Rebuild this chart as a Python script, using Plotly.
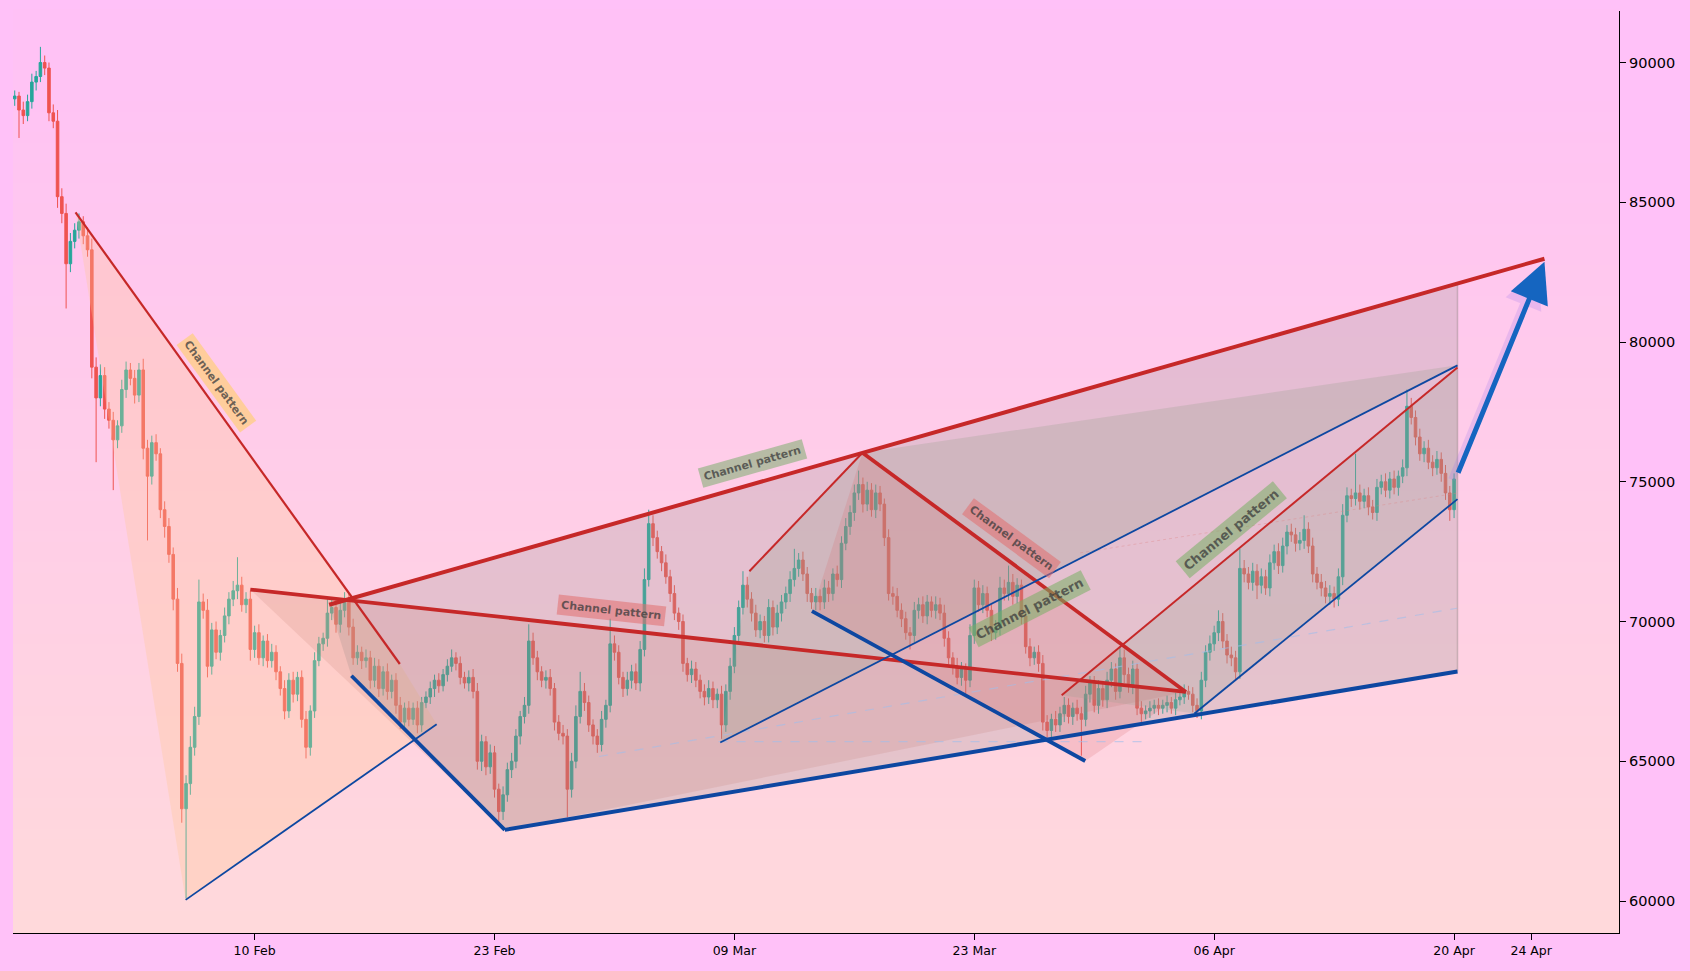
import plotly.graph_objects as go

# ---------------- candle data (6h candles, x = candle index) ----------------
first_open = 88700
closes = [
    88800, 88300, 88100, 88600,  89300, 89500, 90000, 89800,
    88200, 87900, 85200, 84600,  82800, 83600, 84000, 84300,
    83800, 83300, 79100, 78000,  78800, 77600, 77200, 76500,
    77000, 78300, 79000, 78700,  78100, 79000, 76200, 75200,
    76400, 76000, 74000, 73400,  72400, 70800, 68500, 63300,
    64200, 65500, 66600, 70700,  70400, 68400, 69700, 68900,
    69500, 70200, 70800, 71100,  71300, 70600, 70800, 69000,
    69600, 68700, 69300, 68600,  68900, 68200, 67600, 66800,
    67900, 67400, 68000, 66500,  65500, 66800, 68600, 69200,
    69400, 70300, 70500, 69900,  70400, 70800, 69800, 68700,
    68900, 68600, 68700, 67900,  68400, 67600, 68200, 67500,
    67900, 67000, 66400, 66900,  66500, 66900, 66300, 67100,
    67300, 67600, 67900, 67700,  68100, 68400, 68700, 68500,
    68000, 67800, 68000, 67500,  65000, 65700, 64800, 65300,
    64000, 63200, 63800, 64700,  65000, 65900, 66600, 67000,
    69300, 68700, 68200, 67900,  68000, 67600, 66400, 66000,
    65900, 64000, 65000, 66600,  67500, 67100, 66300, 65900,
    65600, 66500, 67000, 69200,  68900, 68000, 67600, 67900,
    68200, 67800, 69000, 71500,  73500, 73000, 72500, 72100,
    71600, 71000, 70300, 70000,  68500, 68100, 68300, 67900,
    67500, 67300, 67600, 67200,  67400, 66300, 67500, 68400,
    69500, 70500, 71300, 70800,  70300, 69700, 70000, 69500,
    70500, 69800, 70300, 70700,  71000, 71500, 71900, 72200,
    71700, 71000, 70700, 70900,  70700, 71200, 71000, 71700,
    71500, 72800, 73400, 73900,  74600, 74900, 74200, 74700,
    74000, 74600, 74200, 73000,  71000, 70900, 70400, 70100,
    69600, 69500, 70400, 70600,  70200, 70700, 70400, 70600,
    70300, 69400, 68700, 68400,  68000, 68300, 67900, 69500,
    71200, 70600, 71000, 70400,  69600, 69800, 71200, 71000,
    71400, 70900, 71300, 70200,  69100, 68700, 68900, 68500,
    66400, 66100, 66500, 66300,  66700, 67000, 66600, 66900,
    66700, 66500, 67400, 67800,  67000, 67600, 67200, 67900,
    68300, 67500, 68700, 68100,  67700, 68300, 66900, 66700,
    66800, 66900, 67000, 66900,  67000, 67100, 66900, 67200,
    67300, 67500, 67400, 67000,  66800, 67900, 68900, 69200,
    69600, 70000, 69300, 68800,  68700, 68200, 71900, 71700,
    71400, 71800, 71300, 71600,  71200, 72100, 72500, 72000,
    72700, 73200, 73100, 72800,  72900, 73300, 72700, 71700,
    71400, 71200, 70900, 71000,  70800, 71600, 73800, 74500,
    74400, 74600, 74300, 74500,  74100, 73900, 74800, 75000,
    74700, 75100, 74800, 75200,  75500, 77700, 77300, 76600,
    76000, 76200, 75700, 75500,  75800, 75300, 74600, 74000,
    75100,
]
upper_wicks = [
    200, 150, 300, 250,  300, 200, 560, 250,  200, 300, 400, 300,  350, 300, 250, 300,
    200, 300, 400, 350,  400, 300, 250, 300,  200, 350, 300, 250,  300, 250, 400, 300,
    250, 300, 200, 300,  300, 250, 400, 350,  300, 400, 350, 800,  300, 400, 250, 300,
    200, 300, 250, 350,  1000, 300, 250, 300, 250, 300, 200, 250,  300, 250, 200, 300,
    250, 300, 200, 250,  300, 200, 300, 250,  200, 500, 300, 250,  300, 250, 200, 300,
    250, 200, 300, 250,  300, 250, 200, 300,  200, 250, 300, 200,  250, 200, 250, 200,
    200, 250, 200, 250,  200, 250, 300, 200,  250, 200, 250, 300,  300, 250, 200, 300,
    250, 200, 300, 250,  300, 250, 200, 300,  600, 300, 250, 200,  250, 300, 200, 250,
    300, 250, 300, 400,  700, 300, 250, 200,  250, 300, 200, 900,  300, 250, 200, 300,
    250, 300, 300, 400,  500, 300, 250, 200,  300, 250, 300, 200,  250, 200, 300, 250,
    200, 250, 300, 250,  200, 300, 250, 300,  300, 250, 500, 300,  250, 300, 250, 200,
    300, 250, 300, 250,  250, 300, 700, 250,  300, 250, 200, 300,  250, 300, 250, 200,
    300, 250, 300, 250,  300, 500, 250, 300,  250, 300, 250, 200,  300, 250, 300, 250,
    250, 200, 300, 250,  300, 250, 200, 300,  250, 300, 250, 200,  300, 250, 200, 400,
    300, 250, 300, 250,  200, 250, 400, 300,  600, 300, 250, 200,  250, 300, 200, 250,
    300, 250, 200, 300,  250, 300, 250, 200,  300, 250, 300, 250,  250, 300, 200, 300,
    250, 200, 400, 300,  250, 300, 200, 250,  200, 250, 200, 250,  200, 250, 200, 250,
    200, 250, 200, 250,  250, 300, 250, 300,  250, 400, 300, 250,  300, 250, 700, 300,
    250, 300, 250, 300,  250, 300, 250, 300,  300, 250, 300, 250,  300, 500, 250, 300,
    250, 300, 250, 300,  250, 300, 400, 300,  250, 1400, 300, 250, 300, 250, 300, 250,
    300, 250, 300, 200,  300, 600, 300, 250,  300, 250, 300, 250,  300, 250, 300, 250,
    200,
]
lower_wicks = [
    250, 1000, 300, 200, 250, 300, 200, 250,  300, 250, 400, 350,  1600, 300, 250, 300,
    300, 250, 400, 2300, 300, 350, 300, 1800, 300, 250, 300, 250,  300, 250, 400, 2300,
    300, 250, 300, 400,  300, 400, 300, 500,  3200, 400, 300, 300, 300, 400, 300, 250,
    300, 250, 300, 250,  300, 250, 300, 400,  300, 250, 300, 250,  250, 300, 250, 300,
    250, 300, 250, 300,  400, 300, 250, 200,  250, 300, 250, 300,  300, 250, 300, 250,
    250, 300, 250, 300,  250, 300, 250, 300,  250, 300, 250, 200,  250, 200, 300, 250,
    200, 250, 300, 250,  200, 250, 200, 250,  250, 200, 300, 250,  300, 350, 300, 250,
    300, 500, 300, 250,  300, 250, 300, 250,  300, 250, 300, 250,  300, 250, 300, 250,
    300, 1000, 300, 250, 250, 300, 250, 300,  300, 250, 300, 250,  300, 250, 300, 250,
    300, 250, 300, 250,  250, 300, 250, 300,  250, 300, 250, 300,  300, 250, 300, 250,
    250, 300, 250, 300,  300, 500, 250, 300,  250, 300, 250, 300,  300, 250, 300, 250,
    250, 300, 250, 300,  250, 300, 250, 300,  250, 300, 250, 300,  300, 250, 300, 250,
    250, 300, 250, 300,  300, 250, 300, 250,  250, 300, 250, 300,  250, 300, 250, 300,
    250, 500, 250, 300,  250, 300, 250, 300,  250, 300, 250, 300,  250, 300, 500, 250,
    300, 250, 300, 250,  300, 250, 300, 250,  250, 300, 250, 300,  250, 300, 250, 300,
    300, 250, 300, 250,  250, 300, 250, 300,  250, 1300, 250, 300, 250, 300, 250, 300,
    250, 300, 250, 300,  250, 300, 250, 300,  200, 250, 200, 250,  200, 250, 200, 250,
    200, 250, 200, 250,  250, 300, 250, 300,  250, 300, 250, 300,  300, 300, 250, 300,
    250, 300, 500, 300,  250, 300, 250, 300,  250, 300, 250, 300,  250, 300, 250, 300,
    250, 300, 250, 300,  300, 250, 300, 250,  300, 250, 300, 250,  300, 250, 300, 250,
    250, 300, 250, 300,  250, 300, 250, 300,  250, 300, 250, 300,  250, 300, 250, 400,
    300,
]

# ---------------- axis ticks ----------------
x_tick_positions = [56, 112, 168, 224, 280, 336, 354]
x_tick_labels = ["10 Feb", "23 Feb", "09 Mar", "23 Mar", "06 Apr", "20 Apr", "24 Apr"]
y_tick_values = [60000, 65000, 70000, 75000, 80000, 85000, 90000]

# ---------------- pattern drawings (candle index, price) ----------------
chan_a_top_x, chan_a_top_y = [14.2, 89.9], [84640, 68480]
chan_a_bot_x, chan_a_bot_y = [39.9, 98.5], [60040, 66320]
chan_a_fill_x = [14.2, 89.9, 98.5, 39.9]
chan_a_fill_y = [84640, 68480, 66320, 60040]

wedge_top_x, wedge_top_y = [73.4, 357.1], [70600, 82980]
wedge_bot_x, wedge_bot_y = [114.4, 336.8], [62545, 68214]
wedge_fill_x = [73.4, 336.8, 336.8, 114.4, 78.6]
wedge_fill_y = [70600, 82134, 68214, 62545, 68060]
wedge_edge_x, wedge_edge_y = [336.8, 336.8], [82134, 68214]

desc_top_x, desc_top_y = [55.0, 273.4], [71144, 67480]
desc_bot_x, desc_bot_y = [78.6, 114.4], [68060, 62545]
desc_fill_x = [55.0, 273.4, 114.4]
desc_fill_y = [71144, 67480, 62545]

peak_left_x, peak_left_y = [171.5, 197.9], [71800, 76040]
peak_right_x, peak_right_y = [197.9, 273.4], [76040, 67480]
peak_sup_x, peak_sup_y = [186.1, 249.9], [70370, 65010]
peak_fill_x = [186.1, 197.9, 273.4, 249.9]
peak_fill_y = [70370, 76040, 67480, 65010]

rise_sup_x, rise_sup_y = [164.7, 336.8], [65670, 79165]
rise_fill_x = [164.7, 171.5, 197.9, 336.8]
rise_fill_y = [65670, 71800, 76040, 79165]

chan_b_top_x, chan_b_top_y = [244.4, 336.8], [67365, 79090]
chan_b_bot_x, chan_b_bot_y = [275.4, 336.8], [66710, 74380]
chan_b_fill_x = [244.4, 336.8, 336.8, 275.4]
chan_b_fill_y = [67365, 79090, 74380, 66710]

dash_mid_x, dash_mid_y = [136.4, 336.7], [65170, 70474]
dash_flat_x, dash_flat_y = [164.3, 264.3], [65700, 65700]
dash_red_x, dash_red_y = [248.7, 336.8], [72455, 74595]

arrow_start = (336.8, 75270)
arrow_end = (357.1, 82870)

label_text = "Channel pattern"
label_x = [47.0, 172.2, 139.4, 232.8, 237.0, 284.1]
label_y = [78548, 75656, 70410, 72976, 70473, 73277]
label_angle = [54, -15.8, 6.3, 36.3, -27.1, -39.5]
label_size = [11, 11, 11, 11, 13, 13]
label_bg = ["rgba(255,205,130,0.75)", "rgba(135,175,120,0.6)", "rgba(225,110,110,0.55)",
            "rgba(225,110,110,0.55)", "rgba(120,175,100,0.55)", "rgba(120,175,100,0.55)"]

# ---------------- build figure ----------------
opens = [first_open] + closes[:-1]
highs = [max(o, c) + u for o, c, u in zip(opens, closes, upper_wicks)]
lows = [min(o, c) - w for o, c, w in zip(opens, closes, lower_wicks)]
idx = list(range(len(closes)))

RED = "#C62828"
BLUE = "#0D47A1"

fig = go.Figure()

fig.add_trace(go.Candlestick(
    x=idx, open=opens, high=highs, low=lows, close=closes,
    increasing=dict(line=dict(color="#26A69A", width=1), fillcolor="#26A69A"),
    decreasing=dict(line=dict(color="#EF5350", width=1), fillcolor="#EF5350"),
    whiskerwidth=0, hoverinfo="skip", showlegend=False,
))


def poly(xs, ys, color):
    fig.add_trace(go.Scatter(x=xs + xs[:1], y=ys + ys[:1], mode="lines", fill="toself",
                             fillcolor=color, line=dict(width=0), hoverinfo="skip",
                             showlegend=False))


def seg(xs, ys, color, width, dash=None):
    fig.add_trace(go.Scatter(x=xs, y=ys, mode="lines",
                             line=dict(color=color, width=width, dash=dash),
                             hoverinfo="skip", showlegend=False))


poly(chan_a_fill_x, chan_a_fill_y, "rgba(255,200,150,0.32)")
poly(wedge_fill_x, wedge_fill_y, "rgba(160,150,148,0.27)")
poly(desc_fill_x, desc_fill_y, "rgba(185,110,100,0.16)")
poly(rise_fill_x, rise_fill_y, "rgba(150,160,140,0.26)")
poly(peak_fill_x, peak_fill_y, "rgba(215,105,105,0.20)")
poly(chan_b_fill_x, chan_b_fill_y, "rgba(150,160,140,0.22)")

seg(wedge_edge_x, wedge_edge_y, "rgba(150,140,140,0.45)", 1.5)
seg(dash_mid_x, dash_mid_y, "rgba(160,190,235,0.6)", 1.2, "dash")
seg(dash_flat_x, dash_flat_y, "rgba(160,190,235,0.6)", 1.2, "dash")
seg(dash_red_x, dash_red_y, "rgba(220,130,130,0.35)", 1, "dot")

seg(chan_a_top_x, chan_a_top_y, RED, 2.2)
seg(chan_a_bot_x, chan_a_bot_y, BLUE, 1.8)
seg(desc_top_x, desc_top_y, RED, 3.8)
seg(desc_bot_x, desc_bot_y, BLUE, 3.8)
seg(wedge_top_x, wedge_top_y, RED, 4.0)
seg(wedge_bot_x, wedge_bot_y, BLUE, 4.0)
seg(peak_left_x, peak_left_y, RED, 2.0)
seg(peak_right_x, peak_right_y, RED, 3.8)
seg(peak_sup_x, peak_sup_y, BLUE, 3.8)
seg(rise_sup_x, rise_sup_y, BLUE, 1.8)
seg(chan_b_top_x, chan_b_top_y, RED, 2.0)
seg(chan_b_bot_x, chan_b_bot_y, BLUE, 1.8)

annotations = []
for lx, ly, ang, sz, bg in zip(label_x, label_y, label_angle, label_size, label_bg):
    annotations.append(dict(
        x=lx, y=ly, xref="x", yref="y", text="<b>" + label_text + "</b>",
        showarrow=False, textangle=ang, bgcolor=bg, borderpad=3,
        font=dict(family="DejaVu Sans", size=sz, color="rgba(60,60,60,0.75)"),
    ))

# soft shadow + main forecast arrow
annotations.append(dict(
    x=arrow_end[0] - 1.5, y=arrow_end[1] - 250, ax=arrow_start[0] - 1.5, ay=arrow_start[1] - 250,
    xref="x", yref="y", axref="x", ayref="y", text="", showarrow=True,
    arrowhead=2, arrowsize=1.1, arrowwidth=7, arrowcolor="rgba(160,120,235,0.22)", standoff=0,
))
annotations.append(dict(
    x=arrow_end[0], y=arrow_end[1], ax=arrow_start[0], ay=arrow_start[1],
    xref="x", yref="y", axref="x", ayref="y", text="", showarrow=True,
    arrowhead=2, arrowsize=1.6, arrowwidth=5, arrowcolor="#1565C0", standoff=0,
))

# plot-area vertical gradient (pink to peach)
shapes = []
n_bands = 90
top_rgb = (255, 193, 246)
bot_rgb = (255, 217, 219)
for k in range(n_bands):
    t = k / (n_bands - 1)
    col = tuple(round(top_rgb[j] + (bot_rgb[j] - top_rgb[j]) * t) for j in range(3))
    shapes.append(dict(type="rect", xref="paper", yref="paper", x0=0, x1=1,
                       y0=1 - (k + 1) / n_bands, y1=1 - k / n_bands + 0.002,
                       fillcolor="rgb(%d,%d,%d)" % col, line=dict(width=0), layer="below"))

fig.update_layout(
    width=1690, height=971,
    margin=dict(l=13, r=71, t=11, b=38),
    paper_bgcolor="#FFC1F8",
    plot_bgcolor="rgba(0,0,0,0)",
    showlegend=False,
    hovermode=False,
    boxgap=0.15,
    shapes=shapes,
    annotations=annotations,
    font=dict(family="DejaVu Sans", color="#000000"),
)
fig.update_xaxes(
    range=[-0.4, 374.5], rangeslider=dict(visible=False),
    tickmode="array", tickvals=x_tick_positions, ticktext=x_tick_labels,
    ticks="outside", ticklen=6, tickcolor="#000000", tickwidth=1,
    showline=True, linecolor="#000000", linewidth=1.3, showgrid=False, zeroline=False,
    tickfont=dict(family="DejaVu Sans", size=12.5, color="#000000"),
)
fig.update_yaxes(
    side="right", range=[58855, 91843],
    tickmode="array", tickvals=y_tick_values, ticktext=[str(v) for v in y_tick_values],
    ticks="outside", ticklen=6, tickcolor="#000000", tickwidth=1,
    showline=True, linecolor="#000000", linewidth=1.3, showgrid=False, zeroline=False,
    tickfont=dict(family="DejaVu Sans", size=14.5, color="#000000"),
)

fig.write_html(
    "out.html",
    config={"displayModeBar": False},
    post_script="document.body.style.margin='0';document.body.style.background='#FFC1F8';",
)
